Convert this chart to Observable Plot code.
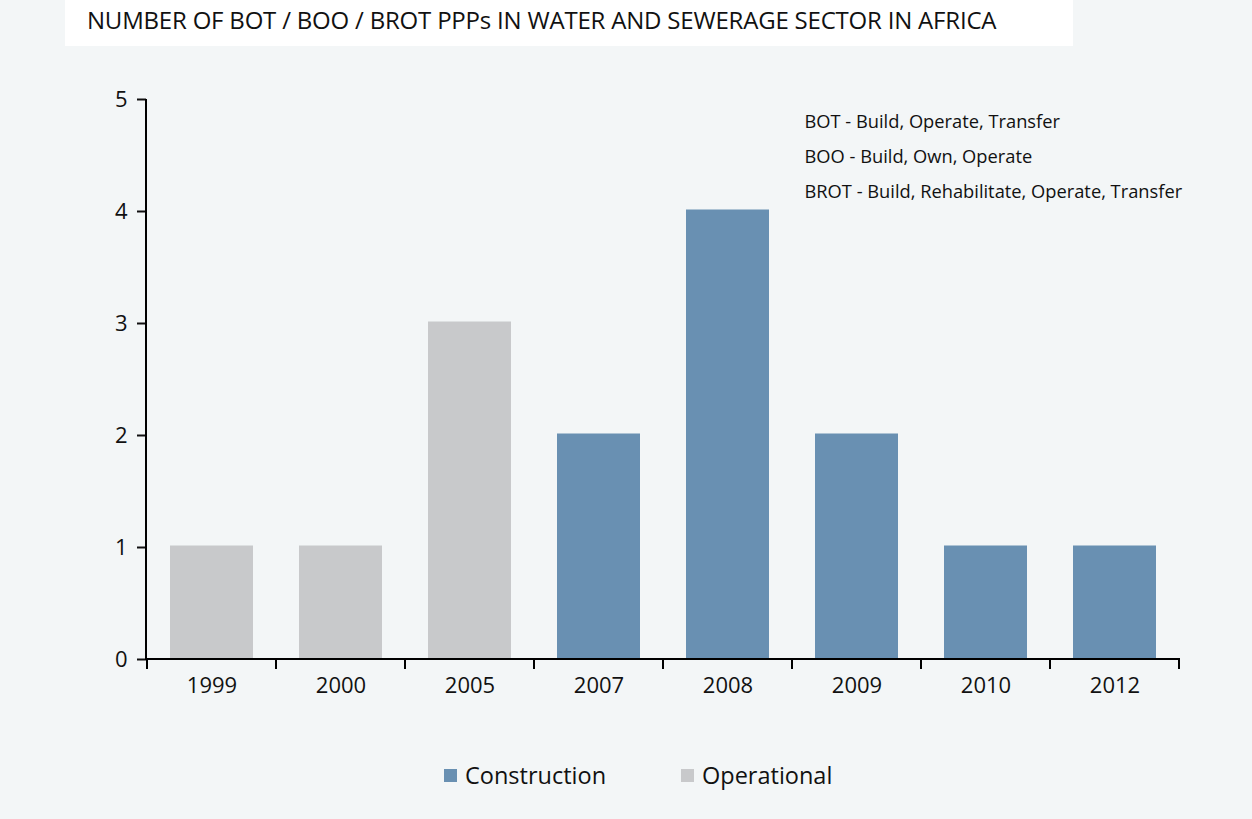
<!DOCTYPE html>
<html>
<head>
<meta charset="utf-8">
<script src="https://cdn.jsdelivr.net/npm/d3@7"></script>
<script src="https://cdn.jsdelivr.net/npm/@observablehq/plot@0.6"></script>
<style>
  html, body { margin: 0; padding: 0; }
  body { width: 1252px; height: 819px; background: #f3f6f7; position: relative; overflow: hidden; font-family: "Open Sans", sans-serif; }
  #title { position: absolute; left: 65px; top: 0; width: 1008px; height: 46px; background: #ffffff; }
  #title span { position: absolute; left: 22px; top: 3px; font-size: 24px; color: #111; white-space: nowrap; letter-spacing: -0.2px; }
  #chart { position: absolute; left: 0; top: 46px; }
  #legend { position: absolute; top: 760px; left: 0; width: 1252px; height: 30px; }
  .item { position: absolute; top: 0; display: flex; align-items: center; height: 30px; font-size: 23.5px; color: #111; }
  .sw { width: 13px; height: 13px; margin-right: 8px; }
</style>
</head>
<body>
<div id="title"><span>NUMBER OF BOT / BOO / BROT PPPs IN WATER AND SEWERAGE SECTOR IN AFRICA</span></div>
<div id="chart"></div>
<div id="legend"></div>
<script>
const years = ["1999", "2000", "2005", "2007", "2008", "2009", "2010", "2012"];
const counts = [1, 1, 3, 2, 4, 2, 1, 1];
const statuses = ["Operational", "Operational", "Operational", "Construction", "Construction", "Construction", "Construction", "Construction"];
const seriesNames = ["Construction", "Operational"];
const seriesColors = ["#6990b2", "#c8c9cb"];
const yTicks = [0, 1, 2, 3, 4, 5];
const notes = ["BOT - Build, Operate, Transfer", "BOO - Build, Own, Operate", "BROT - Build, Rehabilitate, Operate, Transfer"];

const data = years.map((y, i) => ({year: y, count: counts[i], status: statuses[i]}));

// axis lines and band-boundary ticks, drawn from the library's scales
function axisFrame(index, scales, values, dim) {
  const g = d3.create("svg:g").attr("stroke", "#000").attr("fill", "none");
  const x0 = dim.marginLeft, x1 = dim.width - dim.marginRight;
  const yb = scales.y(0), yt = scales.y(5);
  g.append("line").attr("x1", x0).attr("x2", x0).attr("y1", yt).attr("y2", yb + 1).attr("stroke-width", 2);
  g.append("line").attr("x1", x0 - 1).attr("x2", x1 + 1).attr("y1", yb).attr("y2", yb).attr("stroke-width", 2);
  const step = scales.x.step ? scales.x.step() : (x1 - x0) / years.length;
  const bw = scales.x.bandwidth();
  const bounds = years.map(y => scales.x(y) + bw / 2 - step / 2);
  bounds.push(scales.x(years[years.length - 1]) + bw / 2 + step / 2);
  for (const b of bounds) {
    g.append("line").attr("x1", b).attr("x2", b).attr("y1", yb).attr("y2", yb + 10).attr("stroke-width", 2);
  }
  return g.node();
}

const chart = Plot.plot({
  width: 1252,
  height: 673,
  marginLeft: 146,
  marginRight: 73,
  marginTop: 53,
  marginBottom: 60,
  style: {background: "transparent", fontFamily: "Open Sans, sans-serif", color: "#111"},
  x: {domain: years, paddingInner: 0.36, paddingOuter: 0.18, label: null},
  y: {domain: [0, 5], label: null},
  color: {domain: seriesNames, range: seriesColors},
  marks: [
    Plot.barY(data, {x: "year", y: "count", fill: "status", insetTop: -1.5}),
    Plot.axisX({tickSize: 0, tickPadding: 18, fontSize: 22, label: null}),
    Plot.axisY({ticks: yTicks, tickSize: 9, tickPadding: 10, fontSize: 22, label: null, strokeWidth: 2, tickFormat: d3.format("d")}),
    axisFrame,
    Plot.text([notes.join("\n")], {frameAnchor: "top-left", textAnchor: "start", lineAnchor: "top", lineHeight: 1.9, dx: 658, dy: 4, fontSize: 18.3, fill: "#111"})
  ]
});
document.getElementById("chart").appendChild(chart);

const legend = document.getElementById("legend");
const legendX = [444, 681];
seriesNames.forEach((name, i) => {
  const item = document.createElement("div");
  item.className = "item";
  item.style.left = legendX[i] + "px";
  const sw = document.createElement("div");
  sw.className = "sw";
  sw.style.background = seriesColors[i];
  item.appendChild(sw);
  item.appendChild(document.createTextNode(name));
  legend.appendChild(item);
});
</script>
</body>
</html>
